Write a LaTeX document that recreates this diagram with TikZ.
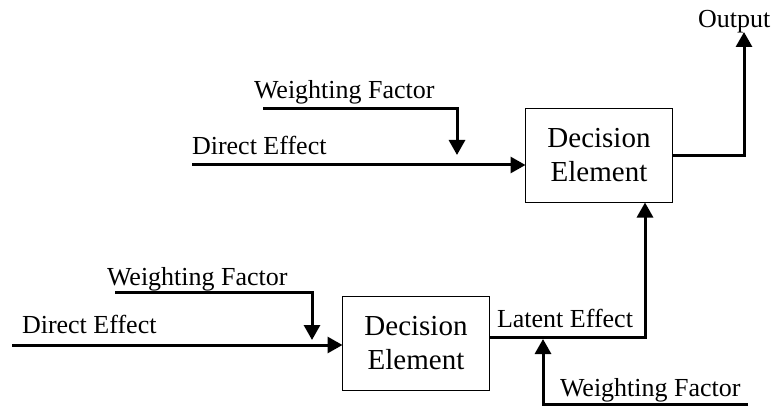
\documentclass[tikz,border=0pt]{standalone}
\usepackage{fontspec}
\setmainfont{Liberation Serif}
\usetikzlibrary{arrows.meta}

\begin{document}
\begin{tikzpicture}[x=0.5pt,y=-0.5pt,inner sep=0pt,outer sep=0pt,line width=1.5pt,
>={Triangle[length=7.5pt,width=8pt]},
decblock/.style={draw,rectangle,line width=0.75pt,minimum width=73.5pt,minimum height=47pt,align=center,font=\fontsize{14.5}{17}\selectfont},
sigtext/.style={anchor=base west,font=\fontsize{13}{15}\selectfont}]

\useasboundingbox (0,0) rectangle (775,406);

\draw (599,155.5) node[decblock] (decB) {Decision\\Element};
\draw (416,343.5) node[decblock] (decA) {Decision\\Element};

\draw (254,99) node[sigtext] (wfBtxt) {Weighting Factor};
\draw (192,155) node[sigtext] (deBtxt) {Direct Effect};
\draw (107,285) node[sigtext] (wfAtxt) {Weighting Factor};
\draw (22,333) node[sigtext] (deAtxt) {Direct Effect};
\draw (497,327) node[sigtext] (latxt) {Latent Effect};
\draw (560,396) node[sigtext] (wfLtxt) {Weighting Factor};
\draw (698,28) node[sigtext] (outtxt) {Output};

\coordinate (deB) at (192,165);
\coordinate (wfB) at (263,109);
\coordinate (deA) at (12,345);
\coordinate (wfA) at (115,292);
\coordinate (wfL) at (748,404.5);
\coordinate (outtip) at (744,32);

\draw[->] (deB) -- (deB -| decB.west);
\draw[->] (wfB) -- ++(194,0) -- ++(0,46);
\draw[->] (deA) -- (deA -| decA.west);
\draw[->] (wfA) -- ++(197,0) -- ++(0,48);
\draw[->] ([yshift=3.25pt]decA.east) -| ([xshift=23pt]decB.south);
\draw[->] (wfL) -- ++(-205,0) -- ++(0,-65.5);
\draw[->] (decB.east) -| (outtip);
\end{tikzpicture}
\end{document}
